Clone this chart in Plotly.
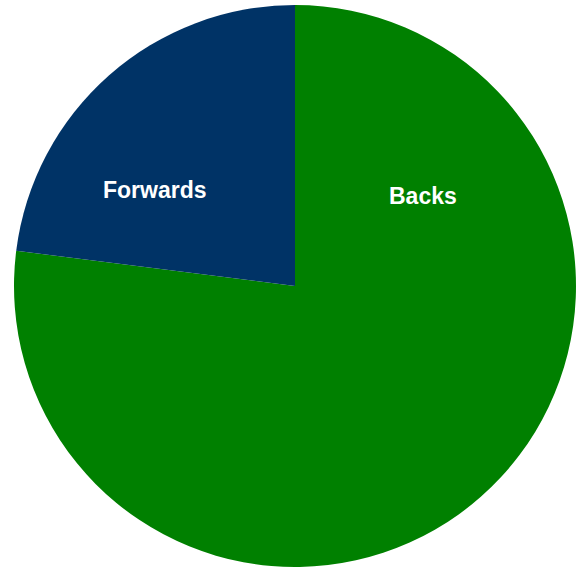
import plotly.graph_objects as go

labels = ["Backs", "Forwards"]
values = [77, 23]
colors = ["#008000", "#003366"]

fig = go.Figure(go.Pie(
    labels=labels,
    values=values,
    sort=False,
    direction="clockwise",
    rotation=0,
    marker=dict(colors=colors, line=dict(width=0)),
    textinfo="none",
    hoverinfo="label+percent",
    showlegend=False,
))

label_pos = {"Backs": (0.728, 0.660), "Forwards": (0.251, 0.671)}
for lab in labels:
    x, y = label_pos[lab]
    fig.add_annotation(
        x=x, y=y, xref="paper", yref="paper", text="<b>%s</b>" % lab,
        showarrow=False, font=dict(family="Liberation Sans, Arial", size=23, color="white"),
        xanchor="center", yanchor="middle",
    )

fig.update_layout(
    width=583, height=568,
    margin=dict(l=14, r=7, t=5, b=1),
    paper_bgcolor="white", plot_bgcolor="white",
)
fig.write_html("out.html", config={"displayModeBar": False},
               post_script="document.body.style.margin='0';")
